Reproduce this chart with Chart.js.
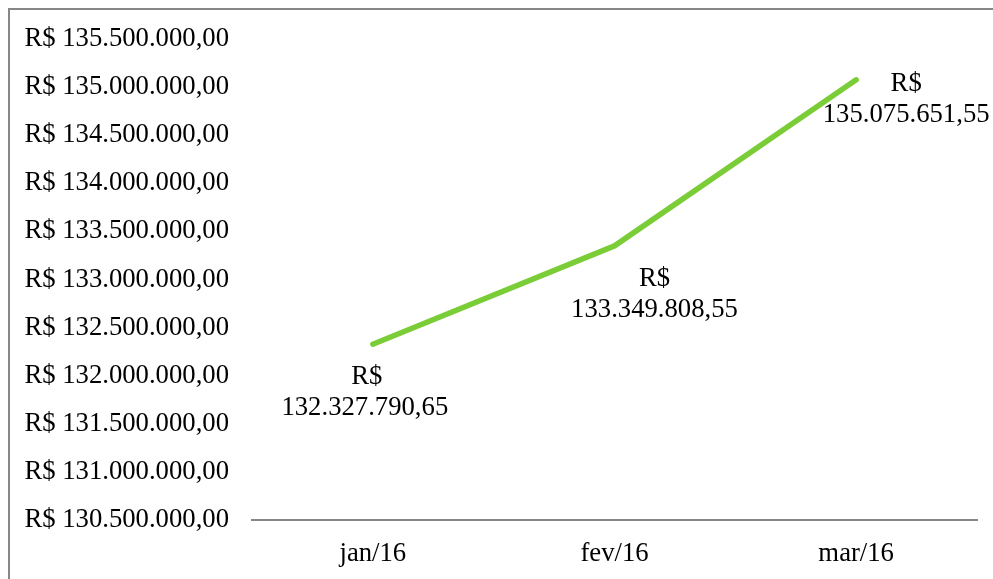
<!DOCTYPE html>
<html>
<head>
<meta charset="utf-8">
<script src="https://cdn.jsdelivr.net/npm/chart.js@4"></script>
<style>
  html, body { margin: 0; padding: 0; background: #fff; }
  canvas { display: block; }
</style>
</head>
<body>
<canvas id="c" width="993" height="579"></canvas>
<script>
const categories = ['jan/16', 'fev/16', 'mar/16'];
const values = [132327790.65, 133349808.55, 135075651.55];
const labelLines = [['R$', '132.327.790,65'], ['R$', '133.349.808,55'], ['R$', '135.075.651,55']];
const yMin = 130500000, yMax = 135500000, yStep = 500000;

const FONT = '"Liberation Serif", "Times New Roman", serif';
const FSIZE = 26.7;

function fmtBRL(v) {
  const parts = Math.round(v).toString().replace(/\B(?=(\d{3})+(?!\d))/g, '.');
  return 'R$ ' + parts + ',00';
}

// [dx R$, dx number, dy R$]
const labelOffsets = [[-6, -8, 33], [40, 40, 33], [50, 50, 4]];

const decor = {
  id: 'decor',
  beforeDraw(chart) {
    const ctx = chart.ctx;
    ctx.save();
    ctx.strokeStyle = '#878787';
    ctx.lineWidth = 2;
    ctx.beginPath();
    ctx.moveTo(9, 2000);
    ctx.lineTo(9, 9);
    ctx.lineTo(2000, 9);
    ctx.stroke();
    ctx.restore();
  },
  afterDatasetsDraw(chart) {
    const ctx = chart.ctx;
    const meta = chart.getDatasetMeta(0);
    ctx.save();
    ctx.font = FSIZE + 'px ' + FONT;
    ctx.fillStyle = '#000';
    ctx.textAlign = 'center';
    ctx.textBaseline = 'middle';
    meta.data.forEach((pt, i) => {
      const [dx1, dx2, dy] = labelOffsets[i];
      const lines = labelLines[i];
      ctx.fillText(lines[0], pt.x + dx1, pt.y + dy);
      ctx.fillText(lines[1], pt.x + dx2, pt.y + dy + 31);
    });
    ctx.restore();
  }
};

new Chart(document.getElementById('c'), {
  type: 'line',
  data: {
    labels: categories,
    datasets: [{
      data: values,
      borderColor: '#7acd37',
      borderWidth: 5.5,
      borderCapStyle: 'round',
      borderJoinStyle: 'round',
      pointRadius: 0,
      tension: 0,
      fill: false
    }]
  },
  options: {
    responsive: false,
    animation: false,
    layout: { padding: { top: 38, right: 16, left: 0, bottom: 0 } },
    plugins: { legend: { display: false }, tooltip: { enabled: false } },
    scales: {
      x: {
        offset: true,
        grid: { display: false, drawTicks: false },
        border: { display: true, color: '#878787', width: 2 },
        ticks: { color: '#000', font: { family: FONT, size: FSIZE }, padding: 18 },
        afterFit(s) { s.height = 59; }
      },
      y: {
        min: yMin, max: yMax,
        grid: { display: false, drawTicks: false },
        border: { display: false },
        ticks: {
          stepSize: yStep,
          color: '#000',
          font: { family: FONT, size: FSIZE },
          padding: 23,
          callback: (v) => fmtBRL(v)
        },
        afterFit(s) { s.width = 252; }
      }
    }
  },
  plugins: [decor]
});
</script>
</body>
</html>
